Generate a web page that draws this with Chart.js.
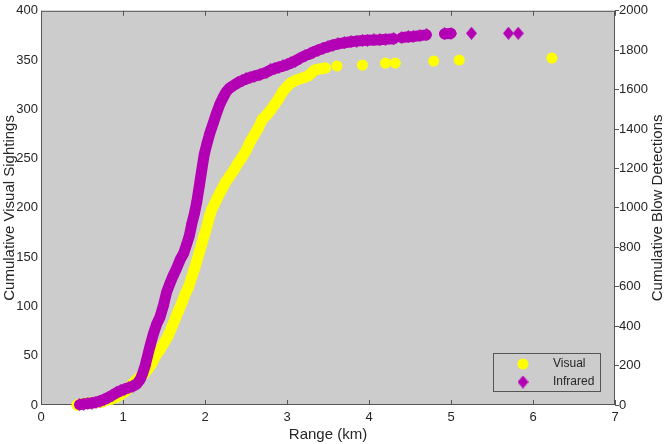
<!DOCTYPE html>
<html>
<head>
<meta charset="utf-8">
<script src="https://cdn.jsdelivr.net/npm/chart.js@4"></script>
<style>
  html, body { margin: 0; padding: 0; background: #fff; }
</style>
</head>
<body>
<canvas id="rangeChart" width="665" height="444"></canvas>
<script>
// values (range in km, cumulative counts)
const visualRange = [0.44, 0.50, 0.56, 0.62, 0.68, 0.74, 0.80, 0.86, 0.92, 0.98, 1.03, 1.08, 1.12, 1.16, 1.20, 1.25, 1.30, 1.35, 1.40, 1.45,
    1.50, 1.55, 1.60, 1.64, 1.68, 1.72, 1.76, 1.80, 1.84, 1.87, 1.90, 1.93, 1.96, 1.99, 2.02, 2.05, 2.08, 2.11, 2.15, 2.20,
    2.25, 2.30, 2.35, 2.40, 2.45, 2.50, 2.55, 2.60, 2.65, 2.70, 2.75, 2.80, 2.85, 2.90, 2.95, 3.00, 3.05, 3.12, 3.20, 3.26,
    3.30, 3.34, 3.40, 3.47, 3.61, 3.92, 4.20, 4.32, 4.79, 5.10, 6.23];
const visualCount = [0, 1, 2, 2, 3, 3, 5, 6, 8, 11, 14, 18, 22, 25, 28, 31, 36, 42, 50, 56,
    63, 70, 80, 88, 96, 104, 113, 120, 130, 138, 146, 155, 163, 172, 180, 190, 198, 203, 210, 218,
    226, 232, 238, 245, 251, 258, 267, 274, 281, 290, 294, 299, 305, 311, 318, 323, 327, 330, 332, 334,
    337, 340, 341, 342, 344, 345, 347, 347, 349, 350, 352];

const infraredRange = [0.47, 0.52, 0.57, 0.62, 0.67, 0.72, 0.77, 0.82, 0.87, 0.92, 0.97, 1.02, 1.07, 1.12, 1.17, 1.21, 1.24, 1.27, 1.30, 1.33,
    1.37, 1.41, 1.45, 1.49, 1.53, 1.57, 1.61, 1.65, 1.70, 1.74, 1.78, 1.81, 1.84, 1.87, 1.90, 1.93, 1.96, 1.99, 2.02, 2.06,
    2.10, 2.14, 2.18, 2.22, 2.26, 2.30, 2.35, 2.40, 2.45, 2.50, 2.55, 2.60, 2.67, 2.75, 2.80, 2.85, 2.90, 2.95, 3.00, 3.05,
    3.10, 3.16, 3.22, 3.28, 3.32, 3.38, 3.44, 3.50, 3.56, 3.62, 3.70, 3.78, 3.85, 3.92, 3.98, 4.06, 4.13, 4.20, 4.30, 4.40,
    4.48, 4.54, 4.62, 4.70, 4.92, 5.00, 5.25, 5.70, 5.82];
const infraredCount = [2, 5, 8, 10, 14, 20, 28, 38, 50, 62, 72, 80, 88, 95, 108, 130, 160, 200, 250, 300,
    360, 410, 445, 500, 570, 615, 655, 690, 740, 770, 820, 860, 920, 970, 1030, 1110, 1190, 1270, 1320, 1380,
    1430, 1480, 1525, 1560, 1590, 1608, 1622, 1635, 1645, 1654, 1662, 1668, 1676, 1688, 1700, 1707, 1714, 1720, 1727, 1736,
    1745, 1760, 1772, 1782, 1790, 1800, 1810, 1818, 1826, 1832, 1838, 1843, 1846, 1849, 1850, 1852, 1853, 1855, 1858, 1864,
    1868, 1870, 1874, 1878, 1883, 1885, 1886, 1886, 1886];

const rangeTicks = [0, 1, 2, 3, 4, 5, 6, 7];
const sightingTicks = [0, 50, 100, 150, 200, 250, 300, 350, 400];
const blowTicks = [0, 200, 400, 600, 800, 1000, 1200, 1400, 1600, 1800, 2000];

const yellow = "#ffff00";
const purple = "#b400b4";
const plotGray = "#cccccc";
const axisColor = "#555555";
const textColor = "#262626";
const fontFamily = "'Liberation Sans', Arial, sans-serif";

Chart.defaults.font.family = fontFamily;
Chart.defaults.color = textColor;

// diamond marker, a bit taller than wide
const diamond = document.createElement("canvas");
diamond.width = 11;
diamond.height = 13;
const dctx = diamond.getContext("2d");
dctx.fillStyle = purple;
dctx.beginPath();
dctx.moveTo(5.5, 0);
dctx.lineTo(11, 6.5);
dctx.lineTo(5.5, 13);
dctx.lineTo(0, 6.5);
dctx.closePath();
dctx.fill();

// hide the joining band where the points are spread apart
const gapColor = (limit) => (ctx) =>
    ctx.p1.parsed.x - ctx.p0.parsed.x > limit ? "rgba(0,0,0,0)" : undefined;

const plotFrame = {
    id: "plotFrame",
    beforeDraw(chart) {
        const { ctx, chartArea: a } = chart;
        ctx.save();
        ctx.fillStyle = "#ffffff";
        ctx.fillRect(0, 0, chart.width, chart.height);
        ctx.fillStyle = plotGray;
        ctx.fillRect(a.left, a.top, a.right - a.left, a.bottom - a.top);
        ctx.restore();
    },
    beforeDatasetsDraw(chart) {
        const { ctx, chartArea: a } = chart;
        const x = chart.scales.x;
        ctx.save();
        ctx.strokeStyle = axisColor;
        ctx.lineWidth = 1;
        ctx.strokeRect(a.left + 0.5, a.top + 0.5, a.right - a.left - 1, a.bottom - a.top - 1);
        ctx.beginPath();
        rangeTicks.forEach((v) => {
            const px = Math.round(x.getPixelForValue(v)) + 0.5;
            ctx.moveTo(px, a.bottom);
            ctx.lineTo(px, a.bottom - 5);
            ctx.moveTo(px, a.top);
            ctx.lineTo(px, a.top + 5);
        });
        ctx.stroke();
        ctx.restore();
    },
    afterDraw(chart) {
        const { ctx, chartArea: a } = chart;

        // right axis title, read bottom to top like the left one
        ctx.save();
        ctx.translate(658, (a.top + a.bottom) / 2);
        ctx.rotate(-Math.PI / 2);
        ctx.font = "15px " + fontFamily;
        ctx.fillStyle = textColor;
        ctx.textAlign = "center";
        ctx.textBaseline = "middle";
        ctx.fillText("Cumulative Blow Detections", 0, 0);
        ctx.restore();

        // legend box
        const boxW = 107, boxH = 38;
        const bx = a.right - 15 - boxW;
        const by = a.bottom - 14 - boxH;
        ctx.save();
        ctx.fillStyle = plotGray;
        ctx.fillRect(bx, by, boxW, boxH);
        ctx.strokeStyle = axisColor;
        ctx.lineWidth = 1;
        ctx.strokeRect(bx + 0.5, by + 0.5, boxW, boxH);
        ctx.font = "12px " + fontFamily;
        ctx.textBaseline = "middle";
        chart.data.datasets.forEach((ds, i) => {
            const cy = by + 11 + i * 18;
            const cx = bx + 30;
            if (ds.pointStyle === "circle") {
                ctx.fillStyle = ds.backgroundColor;
                ctx.beginPath();
                ctx.arc(cx, cy, 5.5, 0, Math.PI * 2);
                ctx.fill();
            } else {
                ctx.drawImage(ds.pointStyle, cx - 5.5, cy - 6.5);
            }
            ctx.fillStyle = textColor;
            ctx.fillText(ds.label, bx + 60, cy);
        });
        ctx.restore();
    },
};

const ctx = document.getElementById("rangeChart").getContext("2d");
const rangeChart = new Chart(ctx, {
    type: "scatter",
    data: {
        datasets: [
            {
                label: "Visual",
                data: visualRange.map((r, i) => ({ x: r, y: visualCount[i] })),
                yAxisID: "y",
                showLine: true,
                borderColor: yellow,
                borderWidth: 11,
                borderCapStyle: "round",
                borderJoinStyle: "round",
                backgroundColor: yellow,
                pointStyle: "circle",
                pointRadius: 5.5,
                pointBorderWidth: 0,
                segment: { borderColor: gapColor(0.1) },
                clip: false,
                order: 2,
            },
            {
                label: "Infrared",
                data: infraredRange.map((r, i) => ({ x: r, y: infraredCount[i] })),
                yAxisID: "y2",
                showLine: true,
                borderColor: purple,
                borderWidth: 11,
                borderCapStyle: "round",
                borderJoinStyle: "round",
                backgroundColor: purple,
                pointStyle: diamond,
                pointRadius: 6,
                pointBorderWidth: 0,
                segment: { borderColor: gapColor(0.1) },
                clip: false,
                order: 1,
            },
        ],
    },
    options: {
        responsive: false,
        animation: false,
        devicePixelRatio: 1,
        layout: { autoPadding: false, padding: { top: 5, left: 0, right: 0, bottom: 0 } },
        plugins: {
            legend: { display: false },
            tooltip: { enabled: false },
        },
        scales: {
            x: {
                type: "linear",
                min: 0,
                max: 7,
                afterBuildTicks: (s) => { s.ticks = rangeTicks.map((v) => ({ value: v })); },
                afterFit: (s) => { s.height = 39; },
                grid: { display: false, drawTicks: false },
                border: { display: false },
                ticks: { font: { size: 13 }, padding: 5, maxRotation: 0, callback: (v) => String(v) },
                title: { display: true, text: "Range (km)", font: { size: 15 }, padding: 0 },
            },
            y: {
                position: "left",
                min: 0,
                max: 400,
                afterBuildTicks: (s) => { s.ticks = sightingTicks.map((v) => ({ value: v })); },
                afterFit: (s) => { s.width = 41; },
                grid: { display: false, drawTicks: false },
                border: { display: false },
                ticks: { font: { size: 13 }, padding: 3, callback: (v) => String(v) },
                title: { display: true, text: "Cumulative Visual Sightings", font: { size: 15 }, padding: { top: 1, bottom: 0 } },
            },
            y2: {
                position: "right",
                min: 0,
                max: 2000,
                afterBuildTicks: (s) => { s.ticks = blowTicks.map((v) => ({ value: v })); },
                afterFit: (s) => { s.width = 50; },
                grid: { drawOnChartArea: false, drawTicks: true, tickLength: 4, color: axisColor },
                border: { display: false },
                ticks: { font: { size: 13 }, padding: 0, callback: (v) => String(v) },
                title: { display: false },
            },
        },
    },
    plugins: [plotFrame],
});
</script>
</body>
</html>
